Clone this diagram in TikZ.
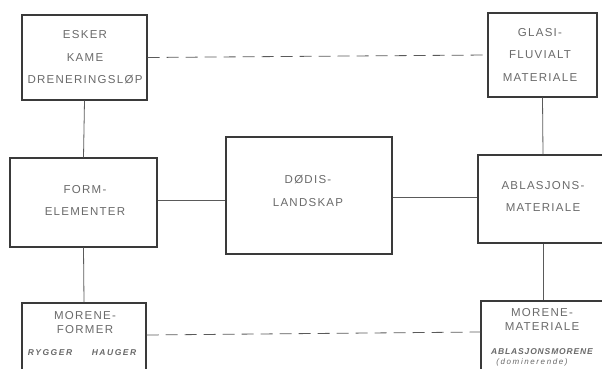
\documentclass[tikz,border=0pt]{standalone}
\usepackage{fontspec}
\setmainfont{Liberation Sans}
\definecolor{boxc}{HTML}{3A3A3A}
\definecolor{linec}{HTML}{5A5A5A}
\definecolor{txtc}{HTML}{6A6A6A}
\begin{document}
\begin{tikzpicture}[x=1pt,y=-1pt,
  box/.style={draw=boxc, line width=1.3pt, inner sep=0pt, fill=white},
  conn/.style={draw=linec, line width=0.8pt},
  dconn/.style={conn, dash pattern=on 12pt off 7pt},
  txt/.style={text=txtc, align=center, inner sep=0pt,
    font=\fontsize{11.5}{22.5}\selectfont\addfontfeature{LetterSpace=11}},
  tight/.style={font=\fontsize{11.5}{14}\selectfont\addfontfeature{LetterSpace=11}},
  small/.style={text=txtc, inner sep=0pt,
    font=\fontsize{8.5}{9}\selectfont\bfseries\itshape\addfontfeature{LetterSpace=18}}]
\useasboundingbox (0,0) rectangle (602,369);
\clip (0,0) rectangle (602,369);
% boxes
\node[box, minimum width=125pt, minimum height=85pt] (esker) at (84.5,57.5) {};
\node[box, minimum width=109pt, minimum height=84pt] (glasi) at (542.5,55) {};
\node[box, minimum width=147pt, minimum height=89pt] (form) at (83.5,202.5) {};
\node[box, minimum width=166pt, minimum height=117pt] (dodis) at (309,195.5) {};
\node[box, minimum width=130pt, minimum height=88pt] (abl) at (543,199) {};
\node[box, minimum width=124pt, minimum height=82pt] (mform) at (84,344) {};
\node[box, minimum width=124pt, minimum height=84pt] (mmat) at (543,343) {};
% helper coordinates for connector heights
\coordinate (yl) at (0,200);
\coordinate (yr) at (0,197);
\coordinate (ybl) at (0,335);
\coordinate (ybr) at (0,332);
% connectors
\draw[dconn] (esker.east) -- (glasi.west);
\draw[conn] (esker.south) -- (form.north);
\draw[conn] (form.south) -- (mform.north);
\draw[conn] (glasi.south) -- (abl.north);
\draw[conn] (abl.south) -- (mmat.north);
\draw[conn] (form.east |- yl) -- (dodis.west |- yl);
\draw[conn] (dodis.east |- yr) -- (abl.west |- yr);
\draw[dconn] (mform.east |- ybl) -- (mmat.west |- ybr);
% texts
\node[txt] (t1) at (85,57.5) {ESKER\\KAME\\DRENERINGSLØP};
\node[txt] (t2) at (540,54.5) {GLASI-\\FLUVIALT\\MATERIALE};
\node[txt] (t3) at (85,200.5) {FORM-\\ELEMENTER};
\node[txt] (t4) at (308,191) {DØDIS-\\LANDSKAP};
\node[txt] (t5) at (543,196.5) {ABLASJONS-\\MATERIALE};
\node[txt, tight] (t6) at (85,323) {MORENE-\\FORMER};
\node[small] (t7) at (50,353) {RYGGER};
\node[small] (t8) at (114,353) {HAUGER};
\node[txt, tight] (t9) at (542,319) {MORENE-\\MATERIALE};
\node[small, font=\fontsize{8.5}{9}\selectfont\bfseries\itshape\addfontfeature{LetterSpace=10}] (t10) at (542,352) {ABLASJONSMORENE};
\node[small, font=\fontsize{8}{9}\selectfont\itshape\addfontfeature{LetterSpace=20}] (t11) at (532,362) {(dominerende)};
\end{tikzpicture}
\end{document}
